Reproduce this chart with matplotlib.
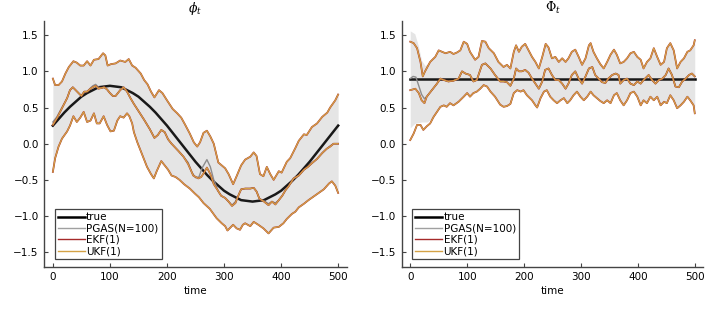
import matplotlib
matplotlib.use("Agg")
import matplotlib.pyplot as plt
from matplotlib.lines import Line2D
import numpy as np

# ---------------- data ----------------
# true phi_t
phi_true_t = list(range(0, 501, 10))
phi_true_v = [0.25, 0.34, 0.43, 0.51, 0.58, 0.65, 0.70, 0.74, 0.78, 0.79, 0.80,
              0.79, 0.78, 0.74, 0.70, 0.65, 0.58, 0.51, 0.43, 0.34, 0.25,
              0.15, 0.05, -0.05, -0.15, -0.25, -0.34, -0.43, -0.51, -0.58, -0.65,
              -0.70, -0.74, -0.78, -0.79, -0.80, -0.79, -0.78, -0.74, -0.70, -0.65,
              -0.58, -0.51, -0.43, -0.34, -0.25, -0.15, -0.05, 0.05, 0.15, 0.25]

# filter mean of phi_t
phi_mean_t = [0, 7, 16, 25, 30, 35, 40, 45, 50, 55, 60, 66, 70, 75, 80, 85, 90, 95, 100,
              105, 110, 118, 124, 130, 136, 142, 151, 160, 170, 178, 184, 190, 196, 202,
              208, 214, 220, 229, 237, 246, 255, 260, 265, 270, 276, 282, 287, 295, 302,
              308, 314, 320, 326, 330, 337, 346, 352, 357, 362, 370, 378, 384, 390, 396,
              402, 408, 413, 422, 431, 440, 447, 454, 463, 472, 480, 486, 492, 500]
phi_mean_v = [0.26, 0.35, 0.49, 0.63, 0.74, 0.78, 0.74, 0.70, 0.66, 0.72, 0.72, 0.76, 0.78,
              0.80, 0.76, 0.77, 0.78, 0.75, 0.70, 0.66, 0.66, 0.74, 0.78, 0.72, 0.63, 0.55,
              0.44, 0.33, 0.20, 0.08, 0.12, 0.19, 0.16, 0.06, 0.0, -0.05, -0.10, -0.18,
              -0.28, -0.44, -0.48, -0.46, -0.40, -0.33, -0.42, -0.56, -0.62, -0.72, -0.75,
              -0.80, -0.86, -0.82, -0.70, -0.63, -0.62, -0.62, -0.61, -0.66, -0.76, -0.80,
              -0.85, -0.80, -0.84, -0.78, -0.72, -0.64, -0.59, -0.48, -0.44, -0.36, -0.32,
              -0.27, -0.21, -0.13, -0.07, -0.04, 0.0, 0.0]

phi_upper_t = [0, 4, 10, 16, 22, 28, 36, 42, 48, 54, 60, 66, 72, 80, 88, 92, 96, 102, 110,
               118, 127, 133, 139, 145, 154, 160, 166, 172, 178, 186, 192, 200, 210, 218,
               225, 232, 240, 247, 253, 258, 264, 270, 276, 282, 290, 296, 302, 308, 316,
               322, 330, 337, 346, 352, 357, 363, 369, 375, 381, 387, 396, 401, 410, 416,
               425, 431, 440, 445, 454, 463, 472, 481, 486, 495, 500]
phi_upper_v = [0.90, 0.81, 0.81, 0.86, 0.97, 1.06, 1.14, 1.12, 1.08, 1.08, 1.14, 1.08, 1.16,
               1.17, 1.25, 1.22, 1.08, 1.10, 1.11, 1.15, 1.13, 1.17, 1.08, 1.05, 0.97, 0.88,
               0.82, 0.72, 0.64, 0.74, 0.70, 0.60, 0.48, 0.42, 0.36, 0.26, 0.14, 0.02, -0.04,
               0.02, 0.15, 0.18, 0.10, 0.0, -0.26, -0.30, -0.34, -0.42, -0.56, -0.45, -0.30,
               -0.22, -0.18, -0.12, -0.17, -0.42, -0.45, -0.32, -0.42, -0.50, -0.38, -0.40,
               -0.25, -0.20, -0.06, 0.04, 0.13, 0.12, 0.23, 0.28, 0.37, 0.43, 0.50, 0.60, 0.68]

phi_lower_t = [0, 4, 10, 16, 25, 30, 36, 42, 48, 54, 60, 66, 72, 77, 82, 89, 95, 101, 107,
               113, 118, 124, 130, 134, 139, 142, 148, 157, 165, 172, 177, 182, 190, 196,
               202, 208, 215, 222, 230, 240, 249, 256, 264, 275, 287, 296, 302, 306, 311,
               316, 322, 328, 333, 337, 346, 352, 360, 369, 378, 387, 396, 404, 410, 419,
               425, 431, 440, 448, 457, 466, 475, 484, 489, 495, 500]
phi_lower_v = [-0.39, -0.20, -0.04, 0.07, 0.17, 0.25, 0.38, 0.30, 0.36, 0.44, 0.30, 0.32,
               0.42, 0.28, 0.28, 0.38, 0.26, 0.17, 0.18, 0.32, 0.38, 0.36, 0.42, 0.38, 0.28,
               0.16, 0.02, -0.16, -0.32, -0.42, -0.48, -0.38, -0.24, -0.30, -0.36, -0.44,
               -0.46, -0.50, -0.56, -0.62, -0.69, -0.74, -0.82, -0.90, -1.03, -1.10, -1.14,
               -1.20, -1.16, -1.12, -1.17, -1.19, -1.12, -1.10, -1.14, -1.08, -1.12, -1.17,
               -1.24, -1.16, -1.15, -1.10, -1.04, -0.97, -0.94, -0.88, -0.83, -0.78, -0.73,
               -0.68, -0.63, -0.55, -0.52, -0.58, -0.68]

# PGAS posterior mean of phi_t (differs from the filters around t = 240..285)
phi_pgas_t = [0, 7, 16, 25, 30, 35, 40, 45, 50, 55, 60, 66, 70, 75, 80, 85, 90, 95, 100,
              105, 110, 118, 124, 130, 136, 142, 151, 160, 170, 178, 184, 190, 196, 202,
              208, 214, 220, 229, 237, 244, 250, 256, 262, 270, 276, 282, 290, 295, 302,
              308, 314, 320, 326, 330, 337, 346, 352, 357, 362, 370, 378, 384, 390, 396,
              402, 408, 413, 422, 431, 440, 447, 454, 463, 472, 480, 486, 492, 500]
phi_pgas_v = [0.30, 0.37, 0.50, 0.63, 0.74, 0.78, 0.74, 0.70, 0.66, 0.72, 0.72, 0.77, 0.80,
              0.82, 0.78, 0.77, 0.78, 0.75, 0.70, 0.66, 0.66, 0.74, 0.78, 0.72, 0.63, 0.55,
              0.44, 0.33, 0.20, 0.08, 0.12, 0.19, 0.16, 0.06, 0.0, -0.05, -0.10, -0.18,
              -0.26, -0.40, -0.47, -0.46, -0.33, -0.22, -0.32, -0.50, -0.66, -0.72, -0.75,
              -0.80, -0.85, -0.80, -0.70, -0.63, -0.62, -0.62, -0.61, -0.66, -0.76, -0.79,
              -0.83, -0.80, -0.82, -0.78, -0.72, -0.64, -0.59, -0.48, -0.44, -0.36, -0.32,
              -0.27, -0.21, -0.13, -0.07, -0.03, 0.0, 0.0]

# true Phi_t (constant)
Phi_true_t = [0, 500]
Phi_true_v = [0.9, 0.9]

Phi_mean_t = [0, 9, 15, 20, 25, 29, 38, 47, 53, 59, 67, 76, 85, 91, 97, 105, 111, 117, 126,
              132, 141, 149, 158, 164, 170, 176, 182, 186, 191, 196, 202, 208, 214, 220,
              226, 232, 237, 243, 249, 255, 261, 267, 273, 278, 284, 290, 296, 302, 308,
              314, 320, 325, 331, 337, 343, 348, 355, 361, 366, 369, 375, 381, 387, 393,
              399, 405, 410, 419, 425, 431, 437, 443, 449, 454, 460, 466, 472, 478, 484,
              490, 495, 500]
Phi_mean_v = [0.74, 0.76, 0.70, 0.60, 0.56, 0.65, 0.74, 0.83, 0.90, 0.88, 0.86, 0.87, 0.90,
              1.00, 0.97, 0.95, 0.86, 0.88, 1.09, 1.11, 1.04, 0.95, 0.86, 0.86, 0.85, 0.80,
              0.90, 1.04, 1.00, 1.00, 1.02, 0.98, 0.90, 0.83, 0.76, 0.86, 1.02, 1.04, 0.95,
              0.88, 0.88, 0.83, 0.76, 0.83, 0.95, 1.00, 0.90, 0.83, 0.93, 1.04, 1.06, 0.95,
              0.90, 0.85, 0.84, 0.90, 0.95, 0.97, 0.95, 0.83, 0.88, 0.90, 0.83, 0.81, 0.86,
              0.83, 0.88, 0.95, 0.88, 0.83, 0.88, 0.90, 0.95, 1.04, 0.95, 0.79, 0.78, 0.86,
              0.90, 0.95, 0.97, 0.93]

Phi_upper_t = [0, 6, 12, 18, 22, 26, 35, 44, 50, 56, 62, 70, 76, 82, 88, 94, 100, 105, 114,
               120, 126, 132, 138, 147, 155, 164, 170, 176, 182, 186, 191, 196, 202, 208,
               214, 220, 226, 232, 238, 243, 249, 255, 261, 267, 273, 278, 284, 290, 296,
               302, 308, 314, 317, 322, 328, 334, 340, 346, 352, 358, 363, 369, 375, 381,
               387, 393, 399, 405, 410, 416, 422, 428, 434, 440, 446, 451, 457, 463, 469,
               475, 481, 487, 492, 498, 500]
Phi_upper_v = [1.41, 1.39, 1.32, 1.13, 0.93, 1.00, 1.13, 1.20, 1.29, 1.27, 1.25, 1.27, 1.24,
               1.26, 1.29, 1.41, 1.38, 1.27, 1.16, 1.20, 1.42, 1.41, 1.32, 1.25, 1.13, 1.06,
               1.09, 1.04, 1.27, 1.36, 1.27, 1.34, 1.38, 1.29, 1.20, 1.13, 1.04, 1.20, 1.38,
               1.33, 1.18, 1.20, 1.13, 1.18, 1.13, 1.18, 1.27, 1.30, 1.20, 1.09, 1.18, 1.36,
               1.39, 1.27, 1.18, 1.10, 1.04, 1.13, 1.23, 1.30, 1.23, 1.11, 1.13, 1.18, 1.25,
               1.27, 1.20, 1.16, 1.04, 1.13, 1.18, 1.32, 1.20, 1.09, 1.13, 1.32, 1.39, 1.29,
               1.04, 1.13, 1.18, 1.27, 1.29, 1.36, 1.43]

Phi_lower_t = [0, 6, 12, 18, 23, 29, 35, 41, 47, 53, 59, 64, 70, 76, 85, 94, 100, 105, 111,
               117, 123, 129, 135, 141, 149, 158, 164, 170, 176, 182, 188, 194, 199, 205,
               214, 220, 223, 229, 235, 240, 246, 252, 258, 264, 270, 276, 281, 287, 293,
               299, 305, 311, 317, 322, 328, 334, 340, 346, 352, 358, 363, 369, 375, 381,
               387, 393, 399, 405, 410, 416, 422, 428, 434, 440, 446, 451, 457, 463, 469,
               475, 481, 487, 492, 498, 500]
Phi_lower_v = [0.05, 0.14, 0.26, 0.26, 0.19, 0.24, 0.28, 0.37, 0.44, 0.51, 0.53, 0.51, 0.56,
               0.53, 0.58, 0.65, 0.70, 0.65, 0.70, 0.72, 0.76, 0.81, 0.79, 0.72, 0.65, 0.54,
               0.51, 0.52, 0.55, 0.70, 0.74, 0.72, 0.74, 0.67, 0.60, 0.53, 0.50, 0.63, 0.72,
               0.74, 0.65, 0.60, 0.56, 0.60, 0.63, 0.56, 0.60, 0.67, 0.72, 0.65, 0.60, 0.65,
               0.72, 0.67, 0.63, 0.59, 0.56, 0.60, 0.56, 0.67, 0.70, 0.60, 0.53, 0.60, 0.70,
               0.72, 0.65, 0.53, 0.60, 0.56, 0.65, 0.60, 0.65, 0.53, 0.58, 0.56, 0.67, 0.60,
               0.49, 0.53, 0.58, 0.65, 0.60, 0.53, 0.42]

# PGAS mean of Phi_t where it departs from the filters (start), rest as the filters
Phi_pgas_head_t = [0, 5, 10, 15, 20, 25, 30]
Phi_pgas_head_v = [0.90, 0.93, 0.92, 0.80, 0.68, 0.62, 0.66]
# PGAS band at the start (wider than the filters' bounds)
Phi_band_hi_head_t = [0, 8, 14, 20, 26, 33]
Phi_band_hi_head_v = [1.56, 1.52, 1.36, 1.15, 1.08, 1.12]
Phi_band_lo_head_t = [0, 8, 20, 30, 38]
Phi_band_lo_head_v = [0.22, 0.28, 0.30, 0.30, 0.35]

legend_labels = ["true", "PGAS(N=100)", "EKF(1)", "UKF(1)"]
x_ticks = [0, 100, 200, 300, 400, 500]
y_ticks = [-1.5, -1.0, -0.5, 0.0, 0.5, 1.0, 1.5]

# ---------------- styling ----------------
C_TRUE = "#000000"
C_PGAS = "#8c8c8c"
C_EKF = "#a52a2a"
C_UKF = "#d4a246"
C_BAND = "#808080"
C_AXIS = "#444444"

plt.rcParams["font.family"] = ["DejaVu Sans"]
plt.rcParams["mathtext.fontset"] = "dejavuserif"

fig = plt.figure(figsize=(7.14, 3.12), dpi=100)
ax1 = fig.add_axes([44.3 / 714, 1 - 266.7 / 312, 302.4 / 714, 246 / 312])
ax2 = fig.add_axes([401.7 / 714, 1 - 266.7 / 312, 301.6 / 714, 246 / 312])


def band_from(head_t, head_v, t, v):
    last = head_t[-1]
    bt = list(head_t) + [ti for ti in t if ti > last]
    bv = list(head_v) + [vi for ti, vi in zip(t, v) if ti > last]
    return bt, bv


def panel(ax, title, true_t, true_v, mean_t, mean_v, up_t, up_v, lo_t, lo_v,
          pg_t, pg_v, bh_t, bh_v, bl_t, bl_v):
    # true first, then PGAS ribbon (alpha) + mean, then EKF, then UKF
    ax.plot(true_t, true_v, color=C_TRUE, lw=1.8, zorder=2)
    grid = sorted(set(bh_t) | set(bl_t))
    hi = np.interp(grid, bh_t, bh_v)
    lo = np.interp(grid, bl_t, bl_v)
    ax.fill_between(grid, lo, hi, color=C_BAND, alpha=0.2, lw=0, zorder=3)
    ax.plot(pg_t, pg_v, color=C_PGAS, lw=1.0, zorder=4)
    for (tt, vv) in [(mean_t, mean_v), (up_t, up_v), (lo_t, lo_v)]:
        ax.plot(tt, vv, color=C_EKF, lw=1.25, zorder=5)
    for (tt, vv) in [(mean_t, mean_v), (up_t, up_v), (lo_t, lo_v)]:
        ax.plot(tt, vv, color=C_UKF, lw=0.9, zorder=6)

    ax.set_xlim(-15, 515)
    ax.set_ylim(-1.7, 1.7)
    ax.set_xticks(x_ticks)
    ax.set_yticks(y_ticks)
    ax.set_yticklabels([f"{y:.1f}".replace("-", "\u2212") for y in y_ticks])
    for s in ["top", "right"]:
        ax.spines[s].set_visible(False)
    for s in ["left", "bottom"]:
        ax.spines[s].set_color(C_AXIS)
        ax.spines[s].set_linewidth(1.0)
    ax.tick_params(direction="in", length=3, width=0.8, color=C_AXIS,
                   labelsize=7.5, pad=4, labelcolor="#000000")
    ax.set_xlabel("time", fontsize=7.5, labelpad=3)
    ax.set_title(title, fontsize=9, pad=6)

    handles = [Line2D([], [], color=C_TRUE, lw=1.8),
               Line2D([], [], color="#a0a0a0", lw=1.0),
               Line2D([], [], color=C_EKF, lw=1.0),
               Line2D([], [], color=C_UKF, lw=1.0)]
    leg = ax.legend(handles, legend_labels, loc="lower left",
                    bbox_to_anchor=(0.035, 0.03), fontsize=7.5, frameon=True,
                    fancybox=False, edgecolor=C_AXIS, framealpha=1,
                    handlelength=2.6, handletextpad=0.1, borderpad=0.3,
                    labelspacing=0.12, borderaxespad=0.0)
    leg.get_frame().set_linewidth(0.9)


# phi panel: ribbon edges follow the filter bounds
panel(ax1, r"$\phi_t$", phi_true_t, phi_true_v, phi_mean_t, phi_mean_v,
      phi_upper_t, phi_upper_v, phi_lower_t, phi_lower_v,
      phi_pgas_t, phi_pgas_v, phi_upper_t, phi_upper_v, phi_lower_t, phi_lower_v)

Phi_pg_t, Phi_pg_v = band_from(Phi_pgas_head_t, Phi_pgas_head_v, Phi_mean_t, Phi_mean_v)
Phi_bh_t, Phi_bh_v = band_from(Phi_band_hi_head_t, Phi_band_hi_head_v, Phi_upper_t, Phi_upper_v)
Phi_bl_t, Phi_bl_v = band_from(Phi_band_lo_head_t, Phi_band_lo_head_v, Phi_lower_t, Phi_lower_v)
panel(ax2, r"$\Phi_t$", Phi_true_t, Phi_true_v, Phi_mean_t, Phi_mean_v,
      Phi_upper_t, Phi_upper_v, Phi_lower_t, Phi_lower_v,
      Phi_pg_t, Phi_pg_v, Phi_bh_t, Phi_bh_v, Phi_bl_t, Phi_bl_v)

fig.savefig("out.png", dpi=100)
